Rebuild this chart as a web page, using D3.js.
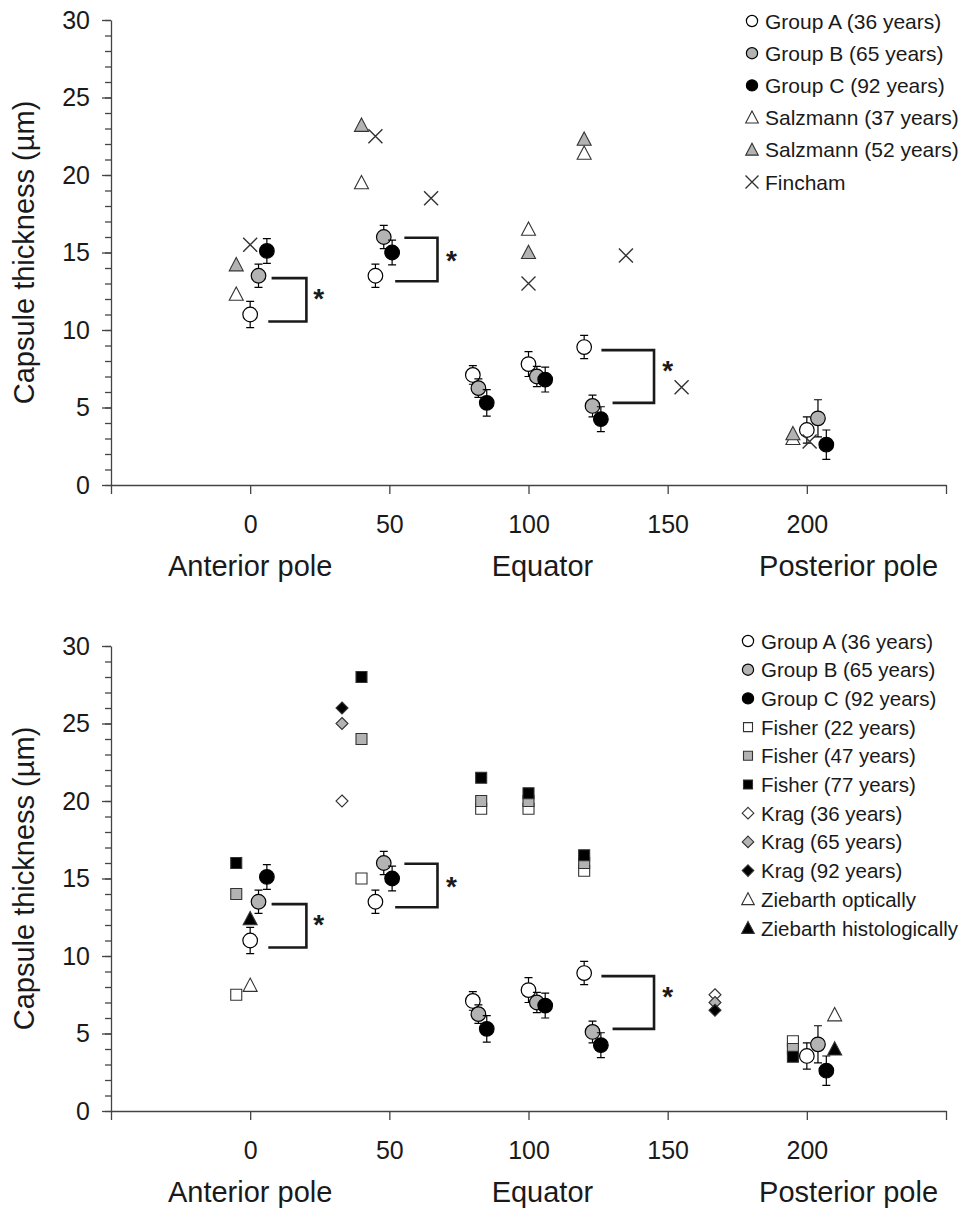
<!DOCTYPE html>
<html>
<head>
<meta charset="utf-8">
<script src="https://cdn.jsdelivr.net/npm/d3@7"></script>
<style>
  body { margin: 0; background: #fff; }
  svg text { font-family: "Liberation Sans", Arial, sans-serif; fill: #1a1a1a; }
</style>
</head>
<body>
<div id="chart"></div>
<script>
// ---- data (distance from anterior pole, capsule thickness in µm) ----
const groupA_x = [0, 45, 80, 100, 120, 200];
const groupA_y = [11.0, 13.5, 7.1, 7.8, 8.9, 3.55];
const groupA_e = [0.85, 0.75, 0.6, 0.8, 0.75, 0.85];

const groupB_x = [3, 48, 82, 103, 123, 204];
const groupB_y = [13.5, 16.0, 6.25, 7.0, 5.1, 4.3];
const groupB_e = [0.75, 0.75, 0.6, 0.65, 0.7, 1.2];

const groupC_x = [6, 51, 85, 106, 126, 207];
const groupC_y = [15.1, 15.0, 5.3, 6.8, 4.25, 2.6];
const groupC_e = [0.8, 0.8, 0.85, 0.8, 0.8, 0.95];

const salz37_x = [-5, 40, 100, 120, 195];
const salz37_y = [12.3, 19.5, 16.5, 21.4, 3.0];
const salz52_x = [-5, 40, 100, 120, 195];
const salz52_y = [14.2, 23.2, 15.0, 22.3, 3.3];
const fincham_x = [0, 45, 65, 100, 135, 155, 201];
const fincham_y = [15.5, 22.5, 18.5, 13.0, 14.8, 6.3, 2.8];

const fisher_x = [-5, 40, 83, 100, 120, 195];
const fisher22_y = [7.5, 15.0, 19.5, 19.5, 15.5, 4.5];
const fisher47_y = [14.0, 24.0, 20.0, 20.0, 16.0, 4.0];
const fisher77_y = [16.0, 28.0, 21.5, 20.5, 16.5, 3.5];
const krag_x = [33, 167];
const krag36_y = [20.0, 7.5];
const krag65_y = [25.0, 7.0];
const krag92_y = [26.0, 6.5];
const ziebarth_x = [0, 210];
const ziebOpt_y = [8.1, 6.2];
const ziebHist_y = [12.4, 4.0];

// significance brackets
const brTopX = [7.7, 55.4, 126.2];
const brBotX = [6.5, 52.1, 130.2];
const brVertX = [20.2, 67.3, 145.1];
const brTopY = [13.35, 15.95, 8.7];
const brBotY = [10.55, 13.15, 5.3];
const starX = [24.6, 72.3, 150];
const starY = [12.3, 14.75, 7.65];

const xTicks = [-50, 0, 50, 100, 150, 200, 250];
const yTicks = [0, 5, 10, 15, 20, 25, 30];
const regionLabels = ['Anterior pole', 'Equator', 'Posterior pole'];
const regionPos = [0, 105, 215];

const grey = '#b3b3b3';

function zip(xs, ys, es) {
  return xs.map((x, i) => ({ x: x, y: ys[i], e: es ? es[i] : 0 }));
}

const groups = [
  { name: 'Group A (36 years)', shape: 'circle', fill: '#fff', pts: zip(groupA_x, groupA_y, groupA_e) },
  { name: 'Group B (65 years)', shape: 'circle', fill: grey, pts: zip(groupB_x, groupB_y, groupB_e) },
  { name: 'Group C (92 years)', shape: 'circle', fill: '#000', pts: zip(groupC_x, groupC_y, groupC_e) }
];

const topOthers = [
  { name: 'Salzmann (37 years)', shape: 'triangle', fill: '#fff', pts: zip(salz37_x, salz37_y) },
  { name: 'Salzmann (52 years)', shape: 'triangle', fill: grey, pts: zip(salz52_x, salz52_y) },
  { name: 'Fincham', shape: 'cross', fill: 'none', pts: zip(fincham_x, fincham_y) }
];

const bottomOthers = [
  { name: 'Fisher (22 years)', shape: 'square', fill: '#fff', pts: zip(fisher_x, fisher22_y) },
  { name: 'Fisher (47 years)', shape: 'square', fill: grey, pts: zip(fisher_x, fisher47_y) },
  { name: 'Fisher (77 years)', shape: 'square', fill: '#000', pts: zip(fisher_x, fisher77_y) },
  { name: 'Krag (36 years)', shape: 'diamond', fill: '#fff', pts: zip(krag_x, krag36_y) },
  { name: 'Krag (65 years)', shape: 'diamond', fill: grey, pts: zip(krag_x, krag65_y) },
  { name: 'Krag (92 years)', shape: 'diamond', fill: '#000', pts: zip(krag_x, krag92_y) },
  { name: 'Ziebarth optically', shape: 'triangle', fill: '#fff', pts: zip(ziebarth_x, ziebOpt_y) },
  { name: 'Ziebarth histologically', shape: 'triangle', fill: '#000', pts: zip(ziebarth_x, ziebHist_y) }
];

// marker outline path, s = half size
function shapePath(type, s) {
  if (type === 'triangle') return `M0,${-s * 1.05}L${s},${s * 0.85}L${-s},${s * 0.85}Z`;
  if (type === 'square') return `M${-s},${-s}h${2 * s}v${2 * s}h${-2 * s}Z`;
  if (type === 'diamond') return `M0,${-s}L${s},0L0,${s}L${-s},0Z`;
  if (type === 'cross') return `M${-s},${-s}L${s},${s}M${s},${-s}L${-s},${s}`;
  return d3.arc()({ innerRadius: 0, outerRadius: s, startAngle: 0, endAngle: 2 * Math.PI });
}

function drawMarker(g, type, fill, s) {
  if (type === 'circle') {
    g.append('circle').attr('r', s).attr('fill', fill).attr('stroke', '#000').attr('stroke-width', 1.2);
  } else if (type === 'cross') {
    g.append('path').attr('d', shapePath(type, s)).attr('fill', 'none')
      .attr('stroke', '#333').attr('stroke-width', 1.4);
  } else {
    g.append('path').attr('d', shapePath(type, s)).attr('fill', fill)
      .attr('stroke', '#333').attr('stroke-width', 1.1);
  }
}

const plotSize = { circle: 7.3, triangle: 7, cross: 7, square: 5.5, diamond: 6 };
const legSize = { circle: 5.6, triangle: 6.3, cross: 6.5, square: 4.5, diamond: 5.8 };

const svg = d3.select('#chart').append('svg')
  .attr('width', 968)
  .attr('height', 1210);

svg.append('rect').attr('width', 968).attr('height', 1210).attr('fill', '#fff');

function drawPanel(top, others, legend) {
  const x = d3.scaleLinear().domain([-50, 250]).range([111, 946]);
  const y = d3.scaleLinear().domain([0, 30]).range([top + 485, top + 20]);
  const g = svg.append('g');

  // minor y ticks
  g.append('g')
    .attr('transform', 'translate(111,0)')
    .call(d3.axisLeft(y).tickValues(d3.range(0, 31, 1)).tickSize(6).tickFormat(''))
    .call(a => a.select('.domain').remove());

  const yAx = g.append('g')
    .attr('transform', 'translate(111,0)')
    .call(d3.axisLeft(y).tickValues(yTicks).tickSize(9).tickSizeOuter(0).tickPadding(12));
  yAx.selectAll('text').attr('font-size', 25);

  const xAx = g.append('g')
    .attr('transform', `translate(0,${top + 485})`)
    .call(d3.axisBottom(x).tickValues(xTicks).tickSize(9).tickSizeOuter(0).tickPadding(21)
      .tickFormat(d => (d < 0 || d > 200) ? '' : d));
  xAx.selectAll('text').attr('font-size', 25);

  g.selectAll('.domain, .tick line').attr('stroke', '#444').attr('stroke-width', 1.3);
  g.selectAll('.tick text').attr('fill', '#1a1a1a')
    .style('font-family', '"Liberation Sans", Arial, sans-serif');

  // axis titles
  g.append('text')
    .attr('transform', `translate(34,${top + 252.5}) rotate(-90)`)
    .attr('text-anchor', 'middle')
    .attr('font-size', 29)
    .text('Capsule thickness (µm)');

  g.selectAll('.region')
    .data(regionLabels)
    .join('text')
    .attr('x', (d, i) => x(regionPos[i]))
    .attr('y', top + 576)
    .attr('text-anchor', 'middle')
    .attr('font-size', 29)
    .text(d => d);

  // significance brackets
  brTopX.forEach((bx, i) => {
    g.append('path')
      .attr('d', `M${x(bx)},${y(brTopY[i])}H${x(brVertX[i])}V${y(brBotY[i])}H${x(brBotX[i])}`)
      .attr('fill', 'none').attr('stroke', '#1a1a1a').attr('stroke-width', 2.6);
    g.append('text')
      .attr('x', x(starX[i])).attr('y', y(starY[i]) + 14)
      .attr('text-anchor', 'middle')
      .attr('font-size', 28).attr('font-weight', 'bold')
      .text('*');
  });

  // literature data (crosses drawn last)
  const drawSeries = s => {
    s.pts.forEach(p => {
      const m = g.append('g').attr('transform', `translate(${x(p.x)},${y(p.y)})`);
      drawMarker(m, s.shape, s.fill, plotSize[s.shape]);
    });
  };
  others.filter(s => s.shape !== 'cross').forEach(drawSeries);

  // groups with error bars
  groups.forEach(s => {
    s.pts.forEach(p => {
      const cx = x(p.x);
      g.append('path')
        .attr('d', `M${cx},${y(p.y - p.e)}V${y(p.y + p.e)}M${cx - 4},${y(p.y + p.e)}H${cx + 4}M${cx - 4},${y(p.y - p.e)}H${cx + 4}`)
        .attr('stroke', '#000').attr('stroke-width', 1.2).attr('fill', 'none');
    });
    drawSeries(s);
  });
  others.filter(s => s.shape === 'cross').forEach(drawSeries);

  // legend
  const all = groups.concat(others);
  all.forEach((s, i) => {
    const cy = top + legend.y0 + i * legend.step;
    const m = g.append('g').attr('transform', `translate(${legend.mx},${cy})`);
    drawMarker(m, s.shape, s.fill, legSize[s.shape]);
    g.append('text')
      .attr('x', legend.tx).attr('y', cy + 7.5)
      .attr('font-size', legend.fs)
      .text(s.name);
  });
}

drawPanel(0, topOthers, { y0: 21, step: 32.2, mx: 752, tx: 765, fs: 21 });
drawPanel(626, bottomOthers, { y0: 15, step: 28.7, mx: 748, tx: 761, fs: 20.5 });
</script>
</body>
</html>
